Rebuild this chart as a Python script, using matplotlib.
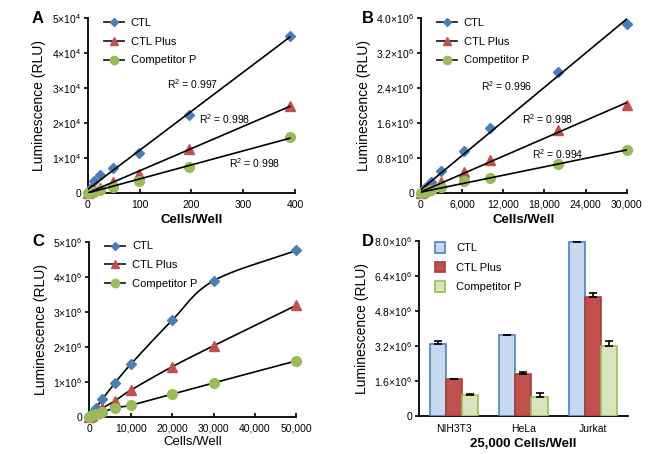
import numpy as np
import matplotlib
matplotlib.use("Agg")
import matplotlib.pyplot as plt

plt.rcParams['font.family'] = ['Liberation Sans', 'DejaVu Sans']
plt.rcParams['mathtext.fontset'] = 'custom'
plt.rcParams['mathtext.rm'] = 'Liberation Sans'
plt.rcParams['mathtext.it'] = 'Liberation Sans'

names = ["CTL", "CTL Plus", "Competitor P"]
colors = ["#4a7ebb", "#c0504d", "#9bbb59"]
markers = ["D", "^", "o"]
msizes = [5, 6.5, 7]

# panel A
a_x = [0, 3, 6, 12, 24, 49, 98, 195, 390]
a_ctl = [0, 600, 1500, 3500, 5000, 7000, 11400, 22400, 44800]
a_plus = [0, 200, 500, 1000, 1500, 3000, 5400, 12700, 24800]
a_comp = [0, 100, 250, 400, 800, 1600, 3300, 7300, 16000]
a_r2 = ["0.997", "0.998", "0.998"]

# panel B
b_x = [0, 375, 750, 1500, 3000, 6250, 10000, 20000, 30000]
b_ctl = [0, 0.05e6, 0.14e6, 0.24e6, 0.51e6, 0.97e6, 1.49e6, 2.76e6, 3.87e6]
b_plus = [0, 0.03e6, 0.06e6, 0.11e6, 0.24e6, 0.47e6, 0.75e6, 1.43e6, 2.02e6]
b_comp = [0, 0.02e6, 0.03e6, 0.06e6, 0.13e6, 0.27e6, 0.34e6, 0.66e6, 0.975e6]
b_r2 = ["0.996", "0.998", "0.994"]

# panel C
c_x = [0, 390, 780, 1563, 3125, 6250, 10000, 20000, 30000, 50000]
c_ctl = [0, 0.05e6, 0.12e6, 0.24e6, 0.50e6, 0.97e6, 1.50e6, 2.76e6, 3.89e6, 4.76e6]
c_plus = [0, 0.02e6, 0.06e6, 0.12e6, 0.24e6, 0.46e6, 0.76e6, 1.43e6, 2.03e6, 3.19e6]
c_comp = [0, 0.02e6, 0.04e6, 0.08e6, 0.13e6, 0.26e6, 0.33e6, 0.65e6, 0.97e6, 1.60e6]

# panel D
d_cells = ["NIH3T3", "HeLa", "Jurkat"]
d_ctl = [3.30e6, 3.68e6, 7.98e6]
d_ctl_err = [0.13e6, 0.04e6, 0.04e6]
d_plus = [1.68e6, 1.93e6, 5.46e6]
d_plus_err = [0.03e6, 0.06e6, 0.15e6]
d_comp = [0.95e6, 0.87e6, 3.18e6]
d_comp_err = [0.07e6, 0.17e6, 0.25e6]


def sci(v, exp, dec=0):
    if v == 0:
        return "0"
    m = v / 10 ** exp
    return r"$%s{\times}10^{%d}$" % (("%." + str(dec) + "f") % m, exp)


def style(ax):
    ax.spines['top'].set_visible(False)
    ax.spines['right'].set_visible(False)
    for s in ['left', 'bottom']:
        ax.spines[s].set_linewidth(1.3)
    ax.tick_params(axis='y', direction='out', length=3, width=1.2, labelsize=7.5, pad=2)
    ax.tick_params(axis='x', direction='in', length=3, width=1.2, labelsize=7.5, pad=5)
    ax.set_ylabel("Luminescence (RLU)", fontsize=10, labelpad=4)


def smooth(x, y, n=30):
    # catmull-rom curve through the points, only for drawing the line
    x = np.asarray(x, float)
    y = np.asarray(y, float)
    px = np.concatenate([[2 * x[0] - x[1]], x, [2 * x[-1] - x[-2]]])
    py = np.concatenate([[2 * y[0] - y[1]], y, [2 * y[-1] - y[-2]]])
    ox, oy = [], []
    t = np.linspace(0, 1, n)
    for i in range(1, len(px) - 2):
        for p, o in ((px, ox), (py, oy)):
            p0, p1, p2, p3 = p[i - 1], p[i], p[i + 1], p[i + 2]
            o.extend(0.5 * (2 * p1 + (-p0 + p2) * t + (2 * p0 - 5 * p1 + 4 * p2 - p3) * t ** 2
                            + (-p0 + 3 * p1 - 3 * p2 + p3) * t ** 3))
    return ox, oy


def legend_lines(ax):
    hs = []
    for c, m, s, n in zip(colors, markers, msizes, names):
        h, = ax.plot([], [], color='#222222', lw=1.3, marker=m, ms=s * 0.85,
                     mfc=c, mec=c, label=n)
        hs.append(h)
    ax.legend(handles=hs, loc='upper left', bbox_to_anchor=(0.03, 1.06), frameon=False,
              fontsize=8, handlelength=1.8, labelspacing=0.8, handletextpad=0.6)


fig = plt.figure(figsize=(6.66, 4.54), dpi=100)

# A
ax = fig.add_axes([0.132, 0.575, 0.311, 0.385])
series = [a_ctl, a_plus, a_comp]
for ys, c, m, s in zip(series, colors, markers, msizes):
    ax.plot(a_x, ys, ls='none', marker=m, ms=s, mfc=c, mec=c, clip_on=False, zorder=3)
    k = np.polyfit(a_x, ys, 1)
    ax.plot([0, a_x[-1]], [max(k[1], 0), np.polyval(k, a_x[-1])], color='black', lw=1.2, zorder=4)
ax.text(152, 3.1e4, r"R$^{2}$ = " + a_r2[0], fontsize=7.5, va='center')
ax.text(215, 2.12e4, r"R$^{2}$ = " + a_r2[1], fontsize=7.5, va='center')
ax.text(273, 0.86e4, r"R$^{2}$ = " + a_r2[2], fontsize=7.5, va='center')
ax.set_xlim(0, 400)
ax.set_ylim(0, 5e4)
ax.set_xticks([0, 100, 200, 300, 400])
yt = np.arange(0, 5.01e4, 1e4)
ax.set_yticks(yt)
ax.set_yticklabels([sci(v, 4) for v in yt])
style(ax)
ax.set_xlabel("Cells/Well", fontsize=9.5, fontweight='bold', labelpad=3)
legend_lines(ax)
fig.text(0.048, 0.96, "A", fontsize=12, fontweight='bold', va='center')

# B
ax = fig.add_axes([0.632, 0.575, 0.309, 0.385])
series = [b_ctl, b_plus, b_comp]
for ys, c, m, s in zip(series, colors, markers, msizes):
    ax.plot(b_x, ys, ls='none', marker=m, ms=s, mfc=c, mec=c, clip_on=False, zorder=3)
    k = np.polyfit(b_x, ys, 1)
    ax.plot([0, b_x[-1]], [max(k[1], 0), np.polyval(k, b_x[-1])], color='black', lw=1.2, zorder=4)
ax.text(8800, 2.45e6, r"R$^{2}$ = " + b_r2[0], fontsize=7.5, va='center')
ax.text(14750, 1.69e6, r"R$^{2}$ = " + b_r2[1], fontsize=7.5, va='center')
ax.text(16200, 0.90e6, r"R$^{2}$ = " + b_r2[2], fontsize=7.5, va='center')
ax.set_xlim(0, 30000)
ax.set_ylim(0, 4e6)
xt = np.arange(0, 30001, 6000)
ax.set_xticks(xt)
ax.set_xticklabels(["0"] + ["{:,}".format(int(v)) for v in xt[1:]])
yt = np.arange(0, 4.01e6, 0.8e6)
ax.set_yticks(yt)
ax.set_yticklabels([sci(v, 6, 1) for v in yt])
style(ax)
ax.set_xlabel("Cells/Well", fontsize=9.5, fontweight='bold', labelpad=3)
legend_lines(ax)
fig.text(0.543, 0.96, "B", fontsize=12, fontweight='bold', va='center')

# C
ax = fig.add_axes([0.134, 0.082, 0.311, 0.385])
series = [c_ctl, c_plus, c_comp]
for ys, c, m, s in zip(series, colors, markers, msizes):
    sx, sy = smooth(c_x, ys)
    ax.plot(sx, sy, color='black', lw=1.2, zorder=2)
    ax.plot(c_x, ys, ls='none', marker=m, ms=s, mfc=c, mec=c, clip_on=False, zorder=3)
ax.set_xlim(0, 50000)
ax.set_ylim(0, 5e6)
xt = np.arange(0, 50001, 10000)
ax.set_xticks(xt)
ax.set_xticklabels(["0"] + ["{:,}".format(int(v)) for v in xt[1:]])
yt = np.arange(0, 5.01e6, 1e6)
ax.set_yticks(yt)
ax.set_yticklabels([sci(v, 6) for v in yt])
style(ax)
ax.set_xlabel("Cells/Well", fontsize=9.5, labelpad=2)
legend_lines(ax)
fig.text(0.048, 0.468, "C", fontsize=12, fontweight='bold', va='center')

# D
ax = fig.add_axes([0.629, 0.084, 0.314, 0.385])
pos = np.arange(len(d_cells))
w = 0.23
fills = ["#c6d9f1", "#c0504d", "#d7e4bd"]
edges = ["#4f81bd", "#a33f3c", "#9bbb59"]
vals = [d_ctl, d_plus, d_comp]
errs = [d_ctl_err, d_plus_err, d_comp_err]
for i, (v, e) in enumerate(zip(vals, errs)):
    ax.bar(pos + (i - 1) * w, v, w, color=fills[i], edgecolor=edges[i], lw=1.2,
           yerr=[np.zeros(len(e)), e], capsize=2.8,
           error_kw=dict(ecolor='black', elinewidth=1.2, capthick=1.2), label=names[i], zorder=3)
ax.set_xlim(-0.5, 2.5)
ax.set_ylim(0, 8e6)
ax.set_xticks(pos)
ax.set_xticklabels(d_cells)
yt = np.arange(0, 8.01e6, 1.6e6)
ax.set_yticks(yt)
ax.set_yticklabels([sci(v, 6, 1) for v in yt])
style(ax)
ax.tick_params(axis='x', length=0, pad=6)
ax.set_xlabel("25,000 Cells/Well", fontsize=9.5, fontweight='bold', labelpad=3)
ax.legend(loc='upper left', bbox_to_anchor=(0.03, 1.05), frameon=False, fontsize=8,
          handlelength=0.9, handleheight=1.1, labelspacing=0.75, handletextpad=1.0)
fig.text(0.543, 0.468, "D", fontsize=12, fontweight='bold', va='center')

fig.savefig("out.png", dpi=100)
